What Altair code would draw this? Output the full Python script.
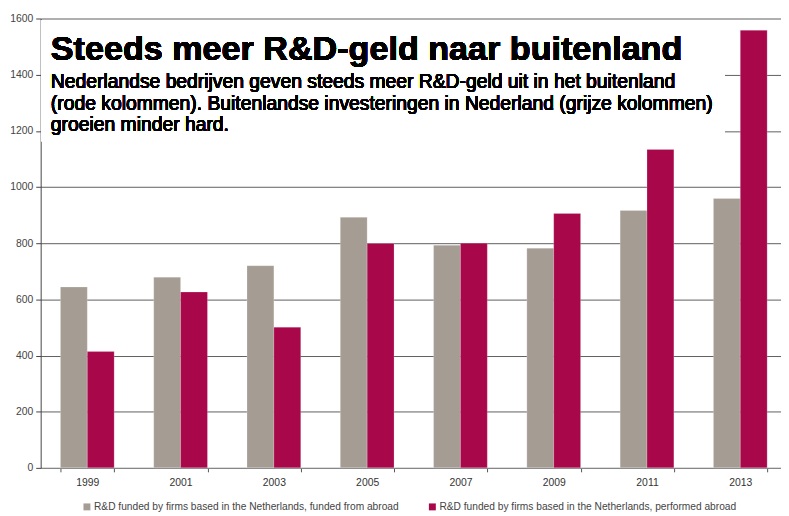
import altair as alt
import pandas as pd

years = ["1999", "2001", "2003", "2005", "2007", "2009", "2011", "2013"]
series_names = [
    "R&D funded by firms based in the Netherlands, funded from abroad",
    "R&D funded by firms based in the Netherlands, performed abroad",
]
funded_from_abroad = [644, 679, 720, 892, 793, 782, 916, 959]
performed_abroad = [414, 626, 501, 799, 800, 906, 1134, 1558]
colors = ["#A59D94", "#A8074A"]

title_text = "Steeds meer R&D-geld naar buitenland"
subtitle_lines = [
    "Nederlandse bedrijven geven steeds meer R&D-geld uit in het buitenland",
    "(rode kolommen). Buitenlandse investeringen in Nederland (grijze kolommen)",
    "groeien minder hard.",
]

rows = []
for i, y in enumerate(years):
    rows.append({"year": y, "series": series_names[0], "value": funded_from_abroad[i]})
    rows.append({"year": y, "series": series_names[1], "value": performed_abroad[i]})
df = pd.DataFrame(rows)

FONT = "Liberation Sans"

bars = alt.Chart(df).mark_bar(stroke="#ffffff", strokeWidth=0.4, strokeOpacity=0.5).encode(
    x=alt.X(
        "year:N",
        sort=years,
        scale=alt.Scale(paddingInner=0.424, paddingOuter=0.212, range=[0, 754]),
        axis=alt.Axis(
            title=None,
            labelAngle=0,
            tickBand="extent",
            domainColor="#8a8a8a",
            tickColor="#555555",
            tickSize=4,
            labelPadding=6,
            labelFontSize=10.5,
            labelColor="#333333",
            labelFont=FONT,
            grid=False,
        ),
    ),
    xOffset=alt.XOffset("series:N", sort=series_names,
                        scale=alt.Scale(domain=series_names, paddingInner=0, paddingOuter=0)),
    y=alt.Y(
        "value:Q",
        scale=alt.Scale(domain=[0, 1600], nice=False),
        axis=alt.Axis(
            title=None,
            values=list(range(0, 1601, 200)),
            format="d",
            grid=True,
            gridColor="#5e5e5e",
            gridWidth=1,
            domainColor="#444444",
            tickColor="#444444",
            tickSize=5,
            labelPadding=3,
            labelFontSize=10.5,
            labelColor="#444444",
            labelFont=FONT,
        ),
    ),
    color=alt.Color(
        "series:N",
        scale=alt.Scale(domain=series_names, range=colors),
        legend=alt.Legend(
            title=None,
            orient="none",
            direction="horizontal",
            legendX=41.6,
            legendY=488,
            symbolType="square",
            symbolSize=49,
            symbolStrokeWidth=0,
            labelFontSize=10.3,
            labelColor="#444444",
            labelFont=FONT,
            labelLimit=600,
            labelOffset=2,
            columnPadding=28,
        ),
    ),
)

white_box = alt.Chart(df).mark_rect(color="white", strokeOpacity=0).encode(
    x=alt.value(1), x2=alt.value(691), y=alt.value(2), y2=alt.value(124)
)

title_mark = alt.Chart(df).mark_text(
    align="left", baseline="alphabetic", font=FONT, fontSize=34.5, fontWeight="bold",
    fill="#000000", strokeOpacity=0, strokeWidth=0,
).encode(x=alt.value(10.3), y=alt.value(41.5), text=alt.value(title_text))

sub_layers = []
for i, line in enumerate(subtitle_lines):
    sub_layers.append(
        alt.Chart(df).mark_text(
            align="left", baseline="alphabetic", font=FONT, fontSize=19.5, fontWeight="normal",
            fill="#000000", strokeOpacity=0, strokeWidth=0,
        ).encode(x=alt.value(10.3), y=alt.value(70 + 22 * i), text=alt.value(line))
    )

chart = alt.layer(bars, white_box, title_mark, *sub_layers).properties(
    width=748,
    height=454,
    autosize=alt.AutoSizeParams(type="none"),
    padding={"left": 33, "top": 8, "right": 0, "bottom": 46},
).configure_view(stroke=None)

chart.save("out.html", embed_options={"renderer": "svg", "actions": False})
